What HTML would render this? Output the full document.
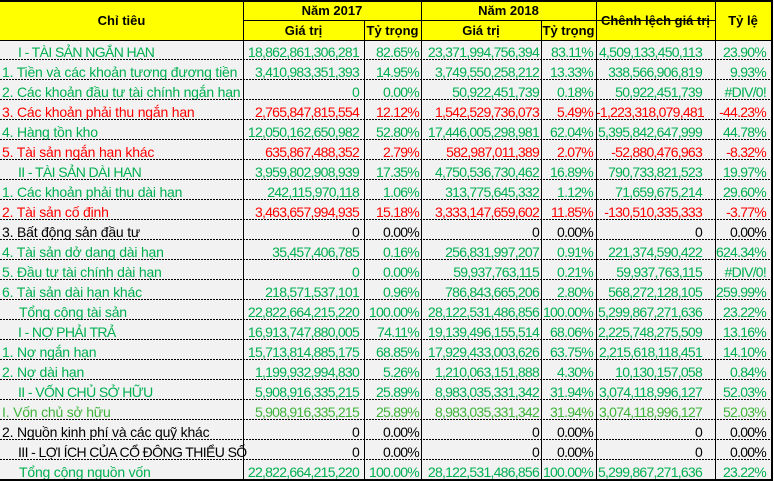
<!DOCTYPE html>
<html>
<head>
<meta charset="utf-8">
<style>
  html,body{margin:0;padding:0;background:#fff;}
  #w{position:relative;width:774px;height:481px;overflow:hidden;background:#fff;
     font-family:"Liberation Sans","DejaVu Sans",sans-serif;}
  .a{position:absolute;}
  .vl{position:absolute;width:1px;background:#000;}
  .dl{position:absolute;left:0;width:771px;height:1px;
      background:repeating-linear-gradient(to right,#000 0 2px,transparent 2px 3px);}
  .h{position:absolute;font-weight:bold;font-size:13px;line-height:16px;text-align:center;color:#000;white-space:nowrap;}
  table{position:absolute;left:0;top:42px;border-collapse:separate;border-spacing:0;table-layout:fixed;width:771px;}
  td{height:20px;padding:0;line-height:20px;font-size:14px;white-space:nowrap;overflow:visible;text-align:right;letter-spacing:-0.75px;}
  td.t{text-align:left;padding-left:2px;letter-spacing:-0.2px;}
  td.t.i{padding-left:18px;letter-spacing:-0.6px;}
  td.t.i2{padding-left:19px;letter-spacing:-0.2px;}
  td.c1{padding-right:5px;}
  td.c2{padding-right:2px;}
  td.c3{padding-right:2px;}
  td.c4{padding-right:3px;}
  td.c5{padding-right:13px;}
  td.c6{padding-right:5px;}
  tr.g td{color:#00b050;}
  tr.r td{color:#ff0000;}
  tr.k td{color:#000;}
  tr.y td{color:#3fb43c;}
</style>
</head>
<body>
<div id="w">
  <div class="a" style="left:0;top:2px;width:771px;height:38px;background:#ffff00;"></div>
  <div class="a" style="left:0;top:41px;width:771px;height:438px;background:#f2f2f2;"></div>

  <div class="h" style="left:0;top:13px;width:243px;">Chỉ tiêu</div>
  <div class="h" style="left:243px;top:3px;width:178px;">Năm 2017</div>
  <div class="h" style="left:421px;top:3px;width:175px;">Năm 2018</div>
  <div class="h" style="left:243px;top:23px;width:121px;">Giá trị</div>
  <div class="h" style="left:364px;top:23px;width:57px;">Tỷ trọng</div>
  <div class="h" style="left:421px;top:23px;width:120px;">Giá trị</div>
  <div class="h" style="left:541px;top:23px;width:55px;">Tỷ trọng</div>
  <div class="h" style="left:596px;top:13px;width:119px;">Chênh lệch giá trị</div>
  <div class="h" style="left:715px;top:13px;width:56px;">Tỷ lệ</div>

  <table>
    <colgroup>
      <col style="width:243px"><col style="width:121px"><col style="width:57px"><col style="width:120px"><col style="width:55px"><col style="width:119px"><col style="width:56px">
    </colgroup>
    <tr class="g"><td class="t i">I - TÀI SẢN NGẮN HẠN</td><td class="c1">18,862,861,306,281</td><td class="c2">82.65%</td><td class="c3">23,371,994,756,394</td><td class="c4">83.11%</td><td class="c5">4,509,133,450,113</td><td class="c6">23.90%</td></tr>
    <tr class="g"><td class="t">1. Tiền và các khoản tương đương tiền</td><td class="c1">3,410,983,351,393</td><td class="c2">14.95%</td><td class="c3">3,749,550,258,212</td><td class="c4">13.33%</td><td class="c5">338,566,906,819</td><td class="c6">9.93%</td></tr>
    <tr class="g"><td class="t">2. Các khoản đầu tư tài chính ngắn hạn</td><td class="c1">0</td><td class="c2">0.00%</td><td class="c3">50,922,451,739</td><td class="c4">0.18%</td><td class="c5">50,922,451,739</td><td class="c6">#DIV/0!</td></tr>
    <tr class="r"><td class="t">3. Các khoản phải thu ngắn hạn</td><td class="c1">2,765,847,815,554</td><td class="c2">12.12%</td><td class="c3">1,542,529,736,073</td><td class="c4">5.49%</td><td class="c5">-1,223,318,079,481</td><td class="c6">-44.23%</td></tr>
    <tr class="g"><td class="t">4. Hàng tồn kho</td><td class="c1">12,050,162,650,982</td><td class="c2">52.80%</td><td class="c3">17,446,005,298,981</td><td class="c4">62.04%</td><td class="c5">5,395,842,647,999</td><td class="c6">44.78%</td></tr>
    <tr class="r"><td class="t">5. Tài sản ngắn hạn khác</td><td class="c1">635,867,488,352</td><td class="c2">2.79%</td><td class="c3">582,987,011,389</td><td class="c4">2.07%</td><td class="c5">-52,880,476,963</td><td class="c6">-8.32%</td></tr>
    <tr class="g"><td class="t i">II - TÀI SẢN DÀI HẠN</td><td class="c1">3,959,802,908,939</td><td class="c2">17.35%</td><td class="c3">4,750,536,730,462</td><td class="c4">16.89%</td><td class="c5">790,733,821,523</td><td class="c6">19.97%</td></tr>
    <tr class="g"><td class="t">1. Các khoản phải thu dài hạn</td><td class="c1">242,115,970,118</td><td class="c2">1.06%</td><td class="c3">313,775,645,332</td><td class="c4">1.12%</td><td class="c5">71,659,675,214</td><td class="c6">29.60%</td></tr>
    <tr class="r"><td class="t">2. Tài sản cố định</td><td class="c1">3,463,657,994,935</td><td class="c2">15.18%</td><td class="c3">3,333,147,659,602</td><td class="c4">11.85%</td><td class="c5">-130,510,335,333</td><td class="c6">-3.77%</td></tr>
    <tr class="k"><td class="t">3. Bất động sản đầu tư</td><td class="c1">0</td><td class="c2">0.00%</td><td class="c3">0</td><td class="c4">0.00%</td><td class="c5">0</td><td class="c6">0.00%</td></tr>
    <tr class="g"><td class="t">4. Tài sản dở dang dài hạn</td><td class="c1">35,457,406,785</td><td class="c2">0.16%</td><td class="c3">256,831,997,207</td><td class="c4">0.91%</td><td class="c5">221,374,590,422</td><td class="c6">624.34%</td></tr>
    <tr class="g"><td class="t">5. Đầu tư tài chính dài hạn</td><td class="c1">0</td><td class="c2">0.00%</td><td class="c3">59,937,763,115</td><td class="c4">0.21%</td><td class="c5">59,937,763,115</td><td class="c6">#DIV/0!</td></tr>
    <tr class="g"><td class="t">6. Tài sản dài hạn khác</td><td class="c1">218,571,537,101</td><td class="c2">0.96%</td><td class="c3">786,843,665,206</td><td class="c4">2.80%</td><td class="c5">568,272,128,105</td><td class="c6">259.99%</td></tr>
    <tr class="g"><td class="t i2">Tổng cộng tài sản</td><td class="c1">22,822,664,215,220</td><td class="c2">100.00%</td><td class="c3">28,122,531,486,856</td><td class="c4">100.00%</td><td class="c5">5,299,867,271,636</td><td class="c6">23.22%</td></tr>
    <tr class="g"><td class="t i">I - NỢ PHẢI TRẢ</td><td class="c1">16,913,747,880,005</td><td class="c2">74.11%</td><td class="c3">19,139,496,155,514</td><td class="c4">68.06%</td><td class="c5">2,225,748,275,509</td><td class="c6">13.16%</td></tr>
    <tr class="g"><td class="t">1. Nợ ngắn hạn</td><td class="c1">15,713,814,885,175</td><td class="c2">68.85%</td><td class="c3">17,929,433,003,626</td><td class="c4">63.75%</td><td class="c5">2,215,618,118,451</td><td class="c6">14.10%</td></tr>
    <tr class="g"><td class="t">2. Nợ dài hạn</td><td class="c1">1,199,932,994,830</td><td class="c2">5.26%</td><td class="c3">1,210,063,151,888</td><td class="c4">4.30%</td><td class="c5">10,130,157,058</td><td class="c6">0.84%</td></tr>
    <tr class="g"><td class="t i">II - VỐN CHỦ SỞ HỮU</td><td class="c1">5,908,916,335,215</td><td class="c2">25.89%</td><td class="c3">8,983,035,331,342</td><td class="c4">31.94%</td><td class="c5">3,074,118,996,127</td><td class="c6">52.03%</td></tr>
    <tr class="y"><td class="t">I. Vốn chủ sở hữu</td><td class="c1">5,908,916,335,215</td><td class="c2">25.89%</td><td class="c3">8,983,035,331,342</td><td class="c4">31.94%</td><td class="c5">3,074,118,996,127</td><td class="c6">52.03%</td></tr>
    <tr class="k"><td class="t">2. Nguồn kinh phí và các quỹ khác</td><td class="c1">0</td><td class="c2">0.00%</td><td class="c3">0</td><td class="c4">0.00%</td><td class="c5">0</td><td class="c6">0.00%</td></tr>
    <tr class="k"><td class="t i">III - LỢI ÍCH CỦA CỔ ĐÔNG THIỂU SỐ</td><td class="c1">0</td><td class="c2">0.00%</td><td class="c3">0</td><td class="c4">0.00%</td><td class="c5">0</td><td class="c6">0.00%</td></tr>
    <tr class="g"><td class="t i2">Tổng cộng nguồn vốn</td><td class="c1">22,822,664,215,220</td><td class="c2">100.00%</td><td class="c3">28,122,531,486,856</td><td class="c4">100.00%</td><td class="c5">5,299,867,271,636</td><td class="c6">23.22%</td></tr>
  </table>

  <div class="dl" style="top:59px"></div>
  <div class="dl" style="top:79px"></div>
  <div class="dl" style="top:99px"></div>
  <div class="dl" style="top:119px"></div>
  <div class="dl" style="top:139px"></div>
  <div class="dl" style="top:159px"></div>
  <div class="dl" style="top:179px"></div>
  <div class="dl" style="top:199px"></div>
  <div class="dl" style="top:219px"></div>
  <div class="dl" style="top:239px"></div>
  <div class="dl" style="top:259px"></div>
  <div class="dl" style="top:279px"></div>
  <div class="dl" style="top:299px"></div>
  <div class="dl" style="top:319px"></div>
  <div class="dl" style="top:339px"></div>
  <div class="dl" style="top:359px"></div>
  <div class="dl" style="top:379px"></div>
  <div class="dl" style="top:399px"></div>
  <div class="dl" style="top:419px"></div>
  <div class="dl" style="top:439px"></div>
  <div class="dl" style="top:459px"></div>

  <div class="a" style="left:0;top:0;width:773px;height:2px;background:#000;"></div>
  <div class="a" style="left:243px;top:20px;width:472px;height:1px;background:#000;"></div>
  <div class="a" style="left:0;top:40px;width:773px;height:1px;background:#000;"></div>
  <div class="vl" style="left:243px;top:0;height:480px;"></div>
  <div class="vl" style="left:364px;top:20px;height:460px;"></div>
  <div class="vl" style="left:421px;top:0;height:480px;"></div>
  <div class="vl" style="left:541px;top:20px;height:460px;"></div>
  <div class="vl" style="left:596px;top:0;height:480px;"></div>
  <div class="vl" style="left:715px;top:0;height:480px;"></div>
  <div class="a" style="left:771px;top:0;width:2px;height:481px;background:#000;"></div>
  <div class="a" style="left:0;top:479px;width:773px;height:2px;background:#000;"></div>
</div>
</body>
</html>
